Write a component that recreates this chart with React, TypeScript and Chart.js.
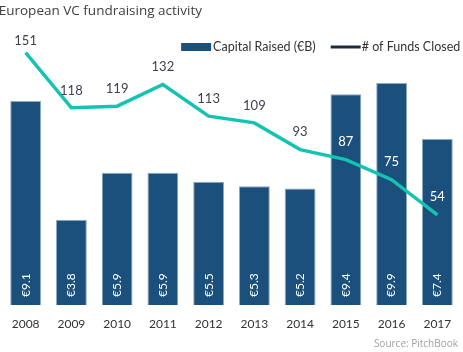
import React, { useEffect, useRef } from "react";
import { Chart, registerables } from "chart.js";

Chart.register(...registerables);

const years = ["2008", "2009", "2010", "2011", "2012", "2013", "2014", "2015", "2016", "2017"];
const capitalRaised = [9.1, 3.8, 5.9, 5.9, 5.5, 5.3, 5.2, 9.4, 9.9, 7.4];
const fundsClosed = [151, 118, 119, 132, 113, 109, 93, 87, 75, 54];
const seriesNames = ["Capital Raised (€B)", "# of Funds Closed"];
const titleText = "European VC fundraising activity";
const sourceText = "Source: PitchBook";

const BAR_COLOR = "#1b4f7c";
const LINE_COLOR = "#14c3b1";
const LEGEND_LINE_COLOR = "#1e2b3a";
const LABEL_FONT = "Lato";

const labelsPlugin = {
  id: "customLabels",
  afterDatasetsDraw(chart: any) {
    const ctx = chart.ctx as CanvasRenderingContext2D;
    const barMeta = chart.getDatasetMeta(0);
    const lineMeta = chart.getDatasetMeta(1);
    ctx.save();
    ctx.font = `12px ${LABEL_FONT}`;
    ctx.fillStyle = "#ffffff";
    barMeta.data.forEach((bar: any, i: number) => {
      const p = bar.getProps(["x", "base"], true);
      ctx.save();
      ctx.translate(p.x, p.base - 8);
      ctx.rotate(-Math.PI / 2);
      ctx.textAlign = "left";
      ctx.textBaseline = "middle";
      ctx.fillText("€" + capitalRaised[i].toFixed(1), 0, 0);
      ctx.restore();
    });
    ctx.font = `13px ${LABEL_FONT}`;
    ctx.textAlign = "center";
    ctx.textBaseline = "middle";
    lineMeta.data.forEach((pt: any, i: number) => {
      let y = pt.y - 17.5;
      y = Math.max(y, chart.chartArea.top + 5);
      const barTop = barMeta.data[i].y;
      ctx.fillStyle = y > barTop ? "#ffffff" : "#404050";
      ctx.fillText(String(fundsClosed[i]), pt.x, y);
    });
    ctx.restore();
  },
  afterDraw(chart: any) {
    const ctx = chart.ctx as CanvasRenderingContext2D;
    const right = chart.chartArea.right;
    const cy = 47;
    ctx.save();
    ctx.font = `12.5px ${LABEL_FONT}`;
    ctx.textBaseline = "middle";
    ctx.textAlign = "left";
    ctx.fillStyle = "#333333";
    const w2 = ctx.measureText(seriesNames[1]).width;
    const t2x = right - w2;
    ctx.fillText(seriesNames[1], t2x, cy);
    ctx.strokeStyle = LEGEND_LINE_COLOR;
    ctx.lineWidth = 3;
    ctx.beginPath();
    ctx.moveTo(t2x - 31, cy);
    ctx.lineTo(t2x - 1, cy);
    ctx.stroke();
    const w1 = ctx.measureText(seriesNames[0]).width;
    const t1end = t2x - 31 - 15;
    const t1x = t1end - w1;
    ctx.fillText(seriesNames[0], t1x, cy);
    ctx.fillStyle = BAR_COLOR;
    ctx.fillRect(t1x - 32, cy - 4, 30, 8);
    // source note
    ctx.font = "10px 'Open Sans'";
    ctx.fillStyle = "#a0a0a0";
    ctx.textAlign = "right";
    ctx.fillText(sourceText, chart.width - 5, 344);
    ctx.restore();
  },
};

export default function App() {
  const canvasRef = useRef<HTMLCanvasElement>(null);

  useEffect(() => {
    if (!canvasRef.current) return;
    Chart.defaults.font.family = LABEL_FONT;
    const chart = new Chart(canvasRef.current, {
      type: "bar",
      data: {
        labels: years,
        datasets: [
          {
            type: "bar",
            label: seriesNames[0],
            data: capitalRaised,
            backgroundColor: BAR_COLOR,
            borderColor: "#8eaac4",
            borderWidth: 1,
            categoryPercentage: 1,
            barPercentage: 0.674,
            yAxisID: "y",
            order: 1,
          },
          {
            type: "line",
            label: seriesNames[1],
            data: fundsClosed,
            borderColor: LINE_COLOR,
            borderWidth: 3.5,
            pointRadius: 0,
            tension: 0,
            clip: false as any,
            yAxisID: "y1",
            order: 0,
          },
        ],
      },
      options: {
        animation: false,
        responsive: false,
        maintainAspectRatio: false,
        layout: { padding: { left: -1.3, right: 1.1, top: 0, bottom: 9 } },
        plugins: {
          legend: { display: false },
          tooltip: { enabled: false },
          title: {
            display: true,
            text: titleText,
            align: "start",
            color: "#404040",
            font: { family: "Open Sans", size: 13.5, weight: "normal" },
            padding: { top: 2.7, bottom: 17.1 },
          },
        },
        scales: {
          x: {
            grid: { display: false, drawTicks: false },
            border: { display: false },
            ticks: { color: "#333333", font: { size: 12 }, padding: 11.8 },
          },
          y: { display: false, min: 0, max: 12 },
          y1: { display: false, min: 0, max: 161 },
        },
      },
      plugins: [labelsPlugin],
    });
    return () => chart.destroy();
  }, []);

  return (
    <div style={{ position: "fixed", left: 0, top: 0, width: 463, height: 352, background: "#fff" }}>
      <canvas ref={canvasRef} width={463} height={352} style={{ width: 463, height: 352 }} />
    </div>
  );
}
